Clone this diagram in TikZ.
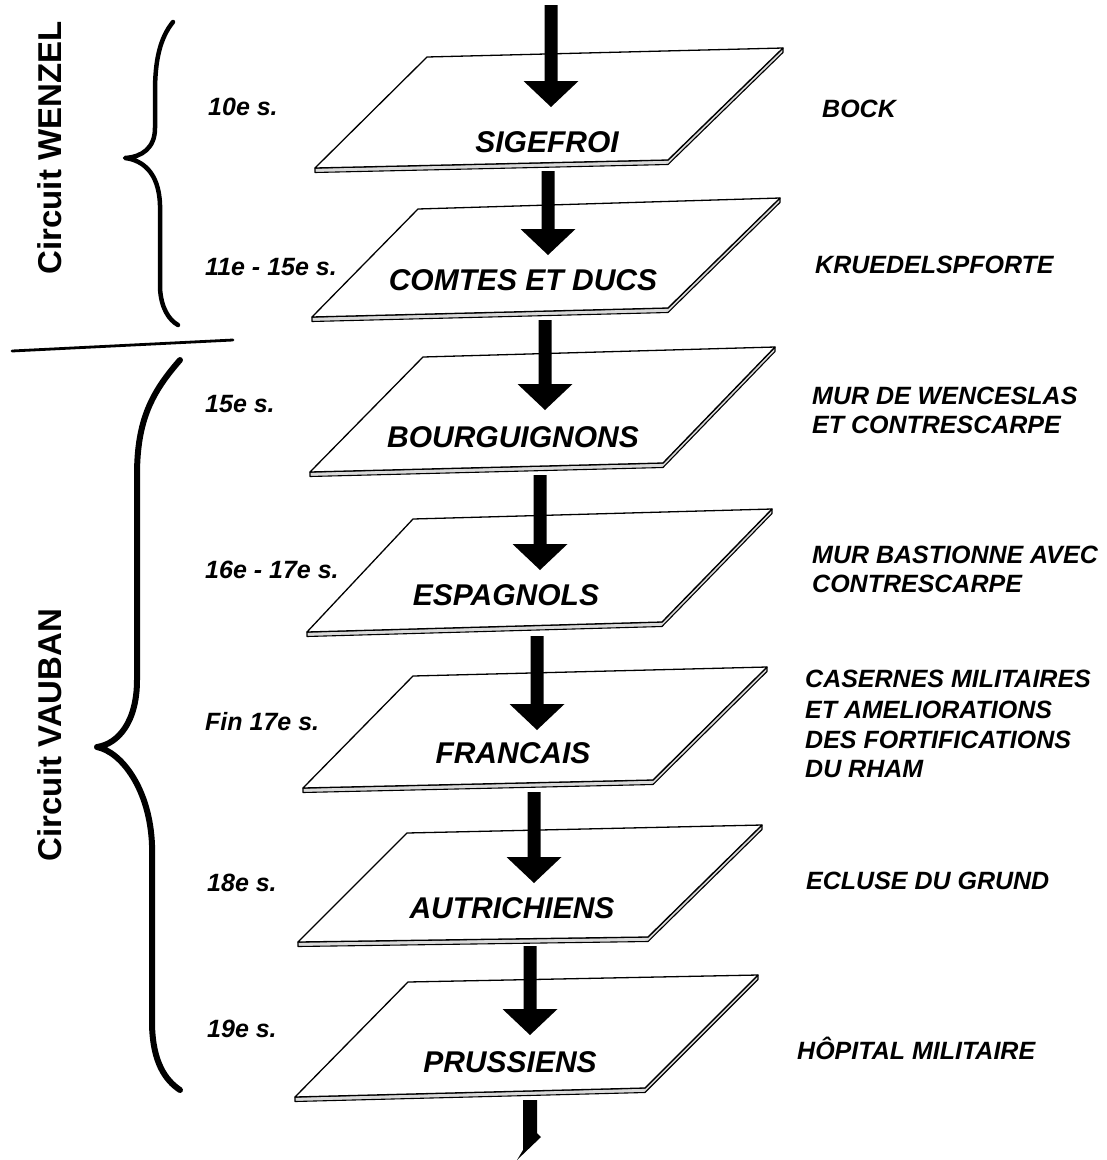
\documentclass[tikz,border=0pt]{standalone}
\usepackage{fontspec}
\setmainfont{Liberation Sans}
\usetikzlibrary{calc}
\tikzset{
  platefill/.style={fill=white,draw=black,line width=1.3pt,line join=round},
  plateedge/.style={draw=black,line width=1.1pt,fill=gray!30,line join=round},
  platelabel/.style={font=\fontsize{30}{36}\selectfont\bfseries\itshape,inner sep=0pt},
  sidelabel/.style={font=\fontsize{25}{30}\selectfont\bfseries\itshape,inner sep=0pt,anchor=base west,align=left},
  circuitlabel/.style={font=\fontsize{33}{40}\selectfont\bfseries,inner sep=0pt,rotate=90},
  bracestyle/.style={line width=4.5pt,line cap=round,line join=round},
  arrowfill/.style={fill=black},
}
\newcommand\myslab[5]{%
  \coordinate (#1tl) at #2;
  \coordinate (#1tr) at #3;
  \coordinate (#1br) at #4;
  \coordinate (#1bl) at #5;
  \path[plateedge] (#1bl) -- (#1br) -- (#1tr) -- ($(#1tr)+(0,4.5)$) -- ($(#1br)+(0,4.5)$) -- ($(#1bl)+(0,4.5)$) -- cycle;
  \path[platefill] (#1tl) -- (#1tr) -- (#1br) -- (#1bl) -- cycle;
}
\newcommand\myarrow[2]{%
  \fill[arrowfill] ($(#1)+(-6.5,0)$) -- ($(#2)+(-6.5,-26)$) -- ($(#2)+(-27.5,-26)$) -- (#2)
    -- ($(#2)+(27.5,-26)$) -- ($(#2)+(6.5,-26)$) -- ($(#1)+(6.5,0)$) -- cycle;
}
\begin{document}
\begin{tikzpicture}[x=1pt,y=-1pt]
\useasboundingbox (0,0) rectangle (1107,1160);
\fill[white] (0,0) rectangle (1107,1160);

% plates
\myslab{s1}{(427,57)}{(783,48)}{(668,160)}{(315,168)}
\myslab{s2}{(418,209)}{(780,198)}{(668,308)}{(312,317)}
\myslab{s3}{(423,357)}{(775,347)}{(663,463)}{(310,472)}
\myslab{s4}{(413,519)}{(772,509)}{(662,622)}{(307,632)}
\myslab{s5}{(413,676)}{(767,667)}{(653,780)}{(303,788)}
\myslab{s6}{(407,833)}{(762,825)}{(648,937)}{(298,942)}
\myslab{s7}{(408,982)}{(758,975)}{(645,1088)}{(295,1097)}

% arrow end points
\coordinate (a0s) at (551,5);    \coordinate (a0t) at (551,107);
\coordinate (a1s) at (548,171);  \coordinate (a1t) at (548,255);
\coordinate (a2s) at (545,320);  \coordinate (a2t) at (545,410);
\coordinate (a3s) at (540,475);  \coordinate (a3t) at (540,570);
\coordinate (a4s) at (537,636);  \coordinate (a4t) at (537,730);
\coordinate (a5s) at (534,792);  \coordinate (a5t) at (534,883);
\coordinate (a6s) at (530,946);  \coordinate (a6t) at (530,1035);
\myarrow{a0s}{a0t}
\myarrow{a1s}{a1t}
\myarrow{a2s}{a2t}
\myarrow{a3s}{a3t}
\myarrow{a4s}{a4t}
\myarrow{a5s}{a5t}
\myarrow{a6s}{a6t}
% last, cut arrow
\coordinate (a7s) at (530,1100);
\fill[arrowfill] ($(a7s)+(-7,0)$) -- ($(a7s)+(7,0)$) -- ($(a7s)+(7,33)$) -- ($(a7s)+(11,37)$)
  -- ($(a7s)+(-13,60)$) -- ($(a7s)+(-7,50)$) -- cycle;

% plate labels
\node[platelabel] (p1) at (547,142) {SIGEFROI};
\node[platelabel] (p2) at (523,280) {COMTES ET DUCS};
\node[platelabel] (p3) at (513,437) {BOURGUIGNONS};
\node[platelabel] (p4) at (506,595) {ESPAGNOLS};
\node[platelabel] (p5) at (513,753) {FRANCAIS};
\node[platelabel] (p6) at (512,908) {AUTRICHIENS};
\node[platelabel] (p7) at (510,1062) {PRUSSIENS};

% dates
\node[sidelabel] (d1) at (208,115) {10e s.};
\node[sidelabel] (d2) at (205,275) {11e - 15e s.};
\node[sidelabel] (d3) at (205,412) {15e s.};
\node[sidelabel] (d4) at (205,578) {16e - 17e s.};
\node[sidelabel] (d5) at (205,730) {Fin 17e s.};
\node[sidelabel] (d6) at (207,891) {18e s.};
\node[sidelabel] (d7) at (207,1037) {19e s.};

% sites
\node[sidelabel] (r1) at (822,117) {BOCK};
\node[sidelabel] (r2) at (815,273) {KRUEDELSPFORTE};
\node[sidelabel] (r3) at (812,404) {MUR DE WENCESLAS};
\node[sidelabel] (r3b) at (812,433) {ET CONTRESCARPE};
\node[sidelabel] (r4) at (812,563) {MUR BASTIONNE AVEC};
\node[sidelabel] (r4b) at (812,592) {CONTRESCARPE};
\node[sidelabel] (r5) at (805,687) {CASERNES MILITAIRES};
\node[sidelabel] (r5b) at (805,718) {ET AMELIORATIONS};
\node[sidelabel] (r5c) at (805,748) {DES FORTIFICATIONS};
\node[sidelabel] (r5d) at (805,777) {DU RHAM};
\node[sidelabel] (r6) at (806,889) {ECLUSE DU GRUND};
\node[sidelabel] (r7) at (797,1059) {HÔPITAL MILITAIRE};

% circuits
\node[circuitlabel] (cw) at (50,148) {Circuit WENZEL};
\node[circuitlabel] (cv) at (50,735) {Circuit VAUBAN};

% braces
\draw[bracestyle] (173,22) .. controls (160,38) and (155,60) .. (155,92) -- (155,128)
  .. controls (155,148) and (142,157) .. (125,158)
  .. controls (142,160) and (159,172) .. (160,205) -- (160,288)
  .. controls (161,308) and (169,320) .. (178,325);
\draw[bracestyle,line width=6pt] (180,360) .. controls (152,392) and (137,420) .. (137,475) -- (137,680)
  .. controls (137,722) and (118,744) .. (97,747)
  .. controls (122,752) and (150,790) .. (152,845) -- (152,1025)
  .. controls (153,1062) and (165,1080) .. (180,1090);
% separator
\draw[line width=2.8pt,line cap=round] (12,351) -- (233,340);
\end{tikzpicture}
\end{document}
